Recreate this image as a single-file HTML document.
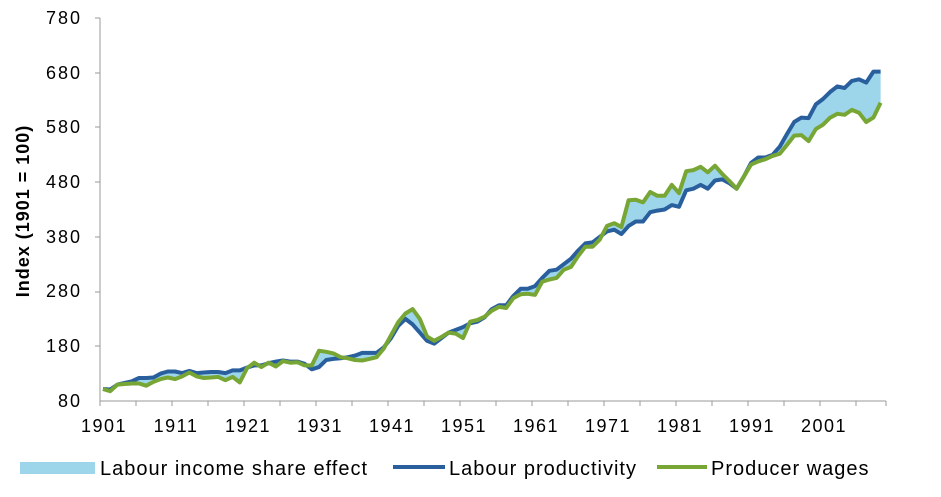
<!DOCTYPE html>
<html><head><meta charset="utf-8"><style>
body{margin:0;background:#fff}
svg{display:block;font-family:"Liberation Sans",Arial,sans-serif}
</style></head><body>
<svg id="c" width="941" height="497" viewBox="0 0 941 497" xmlns="http://www.w3.org/2000/svg">
<g font-size="18" fill="#000" text-anchor="end" letter-spacing="2">
<text x="82" y="24">780</text><text x="82" y="79">680</text><text x="82" y="133">580</text>
<text x="82" y="188">480</text><text x="82" y="243">380</text><text x="82" y="297">280</text>
<text x="82" y="352">180</text><text x="82" y="407">80</text>
</g>
<g stroke="#999" stroke-width="1">
<line x1="100" y1="18" x2="100" y2="401"/>
<line x1="100" y1="401" x2="886" y2="401"/>
<line x1="95" y1="18" x2="100" y2="18"/><line x1="95" y1="73" x2="100" y2="73"/>
<line x1="95" y1="127" x2="100" y2="127"/><line x1="95" y1="182" x2="100" y2="182"/>
<line x1="95" y1="237" x2="100" y2="237"/><line x1="95" y1="292" x2="100" y2="292"/>
<line x1="95" y1="346" x2="100" y2="346"/>
<g id="xt"></g>
</g>
<g font-size="18" text-anchor="middle" id="xl" letter-spacing="1.5"></g>
<text transform="translate(29,211) rotate(-90)" text-anchor="middle" font-size="18" font-weight="bold" letter-spacing="1">Index (1901 = 100)</text>
<path id="fill" fill="#9DD5EA"/>
<path id="pl" fill="none" stroke="#2A5F9E" stroke-width="4" stroke-linejoin="round"/>
<path id="wl" fill="none" stroke="#77A635" stroke-width="4" stroke-linejoin="round"/>
<rect x="20" y="462" width="75" height="12" fill="#9DD5EA"/>
<g font-size="20" letter-spacing="1">
<text x="100" y="475">Labour income share effect</text>
<text x="449" y="475">Labour productivity</text>
<text x="711" y="475">Producer wages</text>
</g>
<line x1="393" y1="467" x2="445" y2="467" stroke="#2A5F9E" stroke-width="4"/>
<line x1="657" y1="467" x2="707" y2="467" stroke="#77A635" stroke-width="4"/>
</svg>
<script>
var P=[102,101,110,113,116,122,122,123,130,134,134,131,135,131,132,133,133,131,136,136,141,145,145,149,152,154,152,152,148,138,142,155,157,158,160,163,168,168,168,178,195,217,230,220,205,190,185,195,205,210,215,222,225,233,248,255,255,272,285,285,290,305,318,320,330,340,355,368,370,380,390,393,385,400,408,408,425,428,430,438,435,465,468,475,468,483,485,478,468,490,515,525,525,530,545,568,590,598,597,622,632,645,655,652,665,668,662,682,682];
var W=[102,98,110,111,112,112,108,115,120,123,120,125,132,125,122,123,124,118,124,114,140,150,142,150,143,153,150,151,145,145,172,170,167,160,158,155,154,157,160,176,200,224,240,248,230,198,190,197,205,203,195,225,228,234,245,252,250,268,275,276,274,298,302,305,320,325,345,362,362,375,400,405,398,447,448,443,462,455,455,475,460,500,502,508,498,510,495,482,468,490,512,518,522,528,532,548,565,566,555,577,585,598,605,603,612,607,590,598,625];
function X(i){return 103+7.2*i}function Y(v){return 401-(v-80)*383/700}
function path(a){return a.map((v,i)=>(i?'L':'M')+X(i).toFixed(1)+','+Y(v).toFixed(1)).join('')}
document.getElementById('pl').setAttribute('d',path(P));
document.getElementById('wl').setAttribute('d',path(W));
var f=path(P);for(var i=W.length-1;i>=0;i--)f+='L'+X(i).toFixed(1)+','+Y(W[i]).toFixed(1);
document.getElementById('fill').setAttribute('d',f+'Z');
var ns='http://www.w3.org/2000/svg',xt=document.getElementById('xt'),xl=document.getElementById('xl');
for(var k=0;k<=22;k++){var x=100+36*k;if(x>886)x=886;var l=document.createElementNS(ns,'line');l.setAttribute('x1',x);l.setAttribute('x2',x);l.setAttribute('y1',401);l.setAttribute('y2',406);xt.appendChild(l);}
for(var k=0;k<11;k++){var t=document.createElementNS(ns,'text');t.setAttribute('x',104+72*k);t.setAttribute('y',432);t.textContent=1901+10*k;xl.appendChild(t);}
</script>
</body></html>
